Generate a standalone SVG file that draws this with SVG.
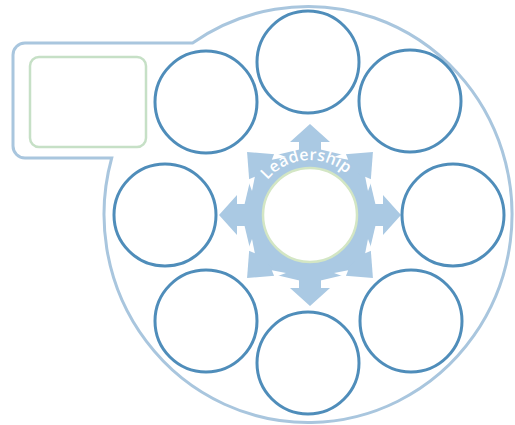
<svg xmlns="http://www.w3.org/2000/svg" width="515" height="425" viewBox="0 0 515 425">
  <defs>
    <style>
      .frame { fill: #ffffff; stroke: #a9c6de; stroke-width: 3; }
      .box { fill: #ffffff; stroke: #c6e0c6; stroke-width: 2.5; }
      .item { fill: #ffffff; stroke: #4f8dba; stroke-width: 3; }
      .gear { fill: #aac9e3; }
      .notch { fill: #ffffff; }
      .hub { fill: #ffffff; stroke: #d3e6c4; stroke-width: 2.5; }
      .lbl { font-family: "Open Sans", "Liberation Sans", sans-serif; font-size: 16px; font-weight: 600; fill: #ffffff; letter-spacing: 0.3px; }
    </style>
    <polygon id="arrowMain" points="-11,-55 -11,-73 -20,-73 0,-91 20,-73 11,-73 11,-55"/>
    <polygon id="arrowDiag" points="-18,-68 0,-89 18,-68 10,-64 -10,-64"/>
    <g id="notchPair">
      <polygon points="-19,-69 -12,-66 -24,-58"/>
      <polygon points="19,-69 12,-66 24,-58"/>
    </g>
    <path id="arc" d="M 255,215 A 55 55 0 0 1 365,215"/>
  </defs>

  <g id="frame">
    <path class="frame" d="M 192.6,43 H 25 A 12 12 0 0 0 13,55 V 146 A 12 12 0 0 0 25,158 H 111.7 A 204 208 0 1 0 192.6,43 Z"/>
  </g>

  <g id="side-box">
    <rect class="box" x="30" y="57" width="116" height="90" rx="9"/>
  </g>

  <g id="leadership">
    <g transform="translate(310,215)">
      <g class="gear">
        <polygon points="0,-68 55,-55 68,0 55,55 0,68 -55,55 -68,0 -55,-55"/>
        <use href="#arrowMain"/>
        <use href="#arrowMain" transform="rotate(90)"/>
        <use href="#arrowMain" transform="rotate(180)"/>
        <use href="#arrowMain" transform="rotate(270)"/>
        <use href="#arrowDiag" transform="rotate(45)"/>
        <use href="#arrowDiag" transform="rotate(135)"/>
        <use href="#arrowDiag" transform="rotate(225)"/>
        <use href="#arrowDiag" transform="rotate(315)"/>
      </g>
      <g class="notch">
        <use href="#notchPair" transform="rotate(45)"/>
        <use href="#notchPair" transform="rotate(135)"/>
        <use href="#notchPair" transform="rotate(225)"/>
        <use href="#notchPair" transform="rotate(315)"/>
      </g>
    </g>
    <circle class="hub" cx="310" cy="215" r="47"/>
    <text class="lbl"><textPath href="#arc" startOffset="47.5%" text-anchor="middle">Leadership</textPath></text>
  </g>

  <g id="node-top"><circle class="item" cx="308" cy="62" r="51"/></g>
  <g id="node-top-right"><circle class="item" cx="410" cy="101" r="51"/></g>
  <g id="node-right"><circle class="item" cx="453" cy="215" r="51"/></g>
  <g id="node-bottom-right"><circle class="item" cx="411" cy="321" r="51"/></g>
  <g id="node-bottom"><circle class="item" cx="308" cy="363" r="51"/></g>
  <g id="node-bottom-left"><circle class="item" cx="206" cy="321" r="51"/></g>
  <g id="node-left"><circle class="item" cx="165" cy="215" r="51"/></g>
  <g id="node-top-left"><circle class="item" cx="206" cy="102" r="51"/></g>

  <g id="connectors"></g>
</svg>
